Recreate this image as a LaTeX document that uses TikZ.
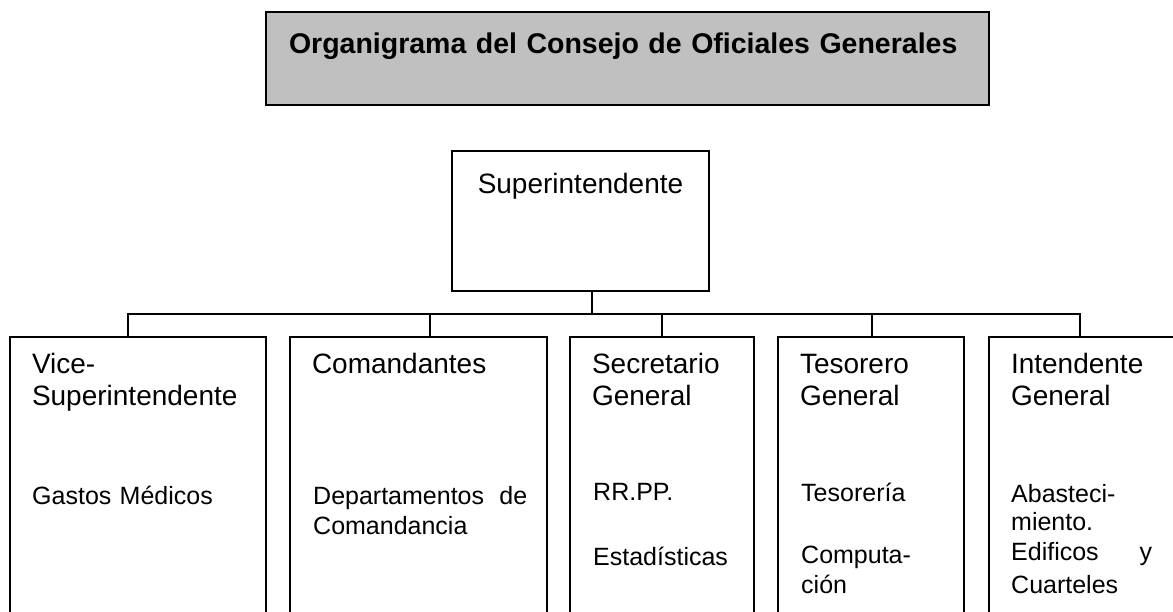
\documentclass[tikz,border=0pt]{standalone}
\usepackage{fontspec}
\setmainfont{Liberation Sans}
\definecolor{titlegray}{RGB}{192,192,192}
\newcommand\titlesize{\fontsize{28.5}{34}\selectfont}
\newcommand\headsize{\fontsize{28}{32}\selectfont}
\newcommand\detsize{\fontsize{25}{30}\selectfont}
\tikzset{
  titlebox/.style={draw, line width=2pt, fill=titlegray, anchor=north west, outer sep=0pt,
    inner xsep=23pt, inner ysep=0pt, text width=677pt, align=left,
    text height=41pt, text depth=52pt, font=\titlesize\bfseries},
  superbox/.style={draw, line width=1.4pt, anchor=north west, outer sep=0pt, inner sep=0pt,
    minimum width=257pt, text height=42pt, text depth=98pt, font=\headsize},
  orgbox/.style={draw, line width=1.4pt, anchor=north west, outer sep=0pt,
    inner xsep=22pt, inner ysep=0pt, align=left, text height=36pt, text depth=280pt,
    font=\headsize},
  detail/.style={anchor=base west, inner sep=0pt, text width=190pt, align=left, font=\detsize},
  wire/.style={line width=1.4pt}
}
\begin{document}
\begin{tikzpicture}[x=1pt,y=-1pt]
  \useasboundingbox (0,0) rectangle (1173,611);
  % title
  \node[titlebox] (title) at (266,12) {Organigrama del Consejo de Oficiales Generales};
  % top of the chart
  \node[superbox] (super) at (452,151) {Superintendente};
  % second level
  \node[orgbox, text width=212pt] (vice) at (10,337) {Vice-\\Superintendente};
  \node[orgbox, text width=213pt] (coman) at (290,337) {Comandantes};
  \node[orgbox, text width=140pt] (secre) at (570,337) {Secretario\\General};
  \node[orgbox, text width=142pt] (tesor) at (778,337) {Tesorero\\General};
  \node[orgbox, text width=160pt] (intend) at (989,337) {Intendente\\General};
  % what each one has under it
  \node[detail] (vicedet) at (32,504) {Gastos Médicos};
  \node[detail, text width=214pt] (comandet) at (313,504) {Departamentos\hfill de\\Comandancia};
  \node[detail] (secredet) at (593,500) {RR.PP.\\[35pt]Estadísticas};
  \node[detail] (tesordet) at (801,501) {Tesorería\\[32pt]Computa-\\ción};
  \node[detail, text width=141pt] (intenddet) at (1011,502) {Abasteci-\\[-2pt]miento.\\Edificos\hfill y\\[3pt]Cuarteles};
  % connectors
  \coordinate (j0) at (592,314);
  \coordinate (j1) at (128,314);
  \coordinate (j2) at (430,314);
  \coordinate (j3) at (662,314);
  \coordinate (j4) at (872,314);
  \coordinate (j5) at (1080,314);
  \draw[wire] (super.south -| j0) -- (j0);
  \draw[wire] (vice.north -| j1) -- (j1) -- (j5) -- (intend.north -| j5);
  \foreach \b/\j in {coman/j2, secre/j3, tesor/j4}
    \draw[wire] (\b.north -| \j) -- (\j);
\end{tikzpicture}
\end{document}
